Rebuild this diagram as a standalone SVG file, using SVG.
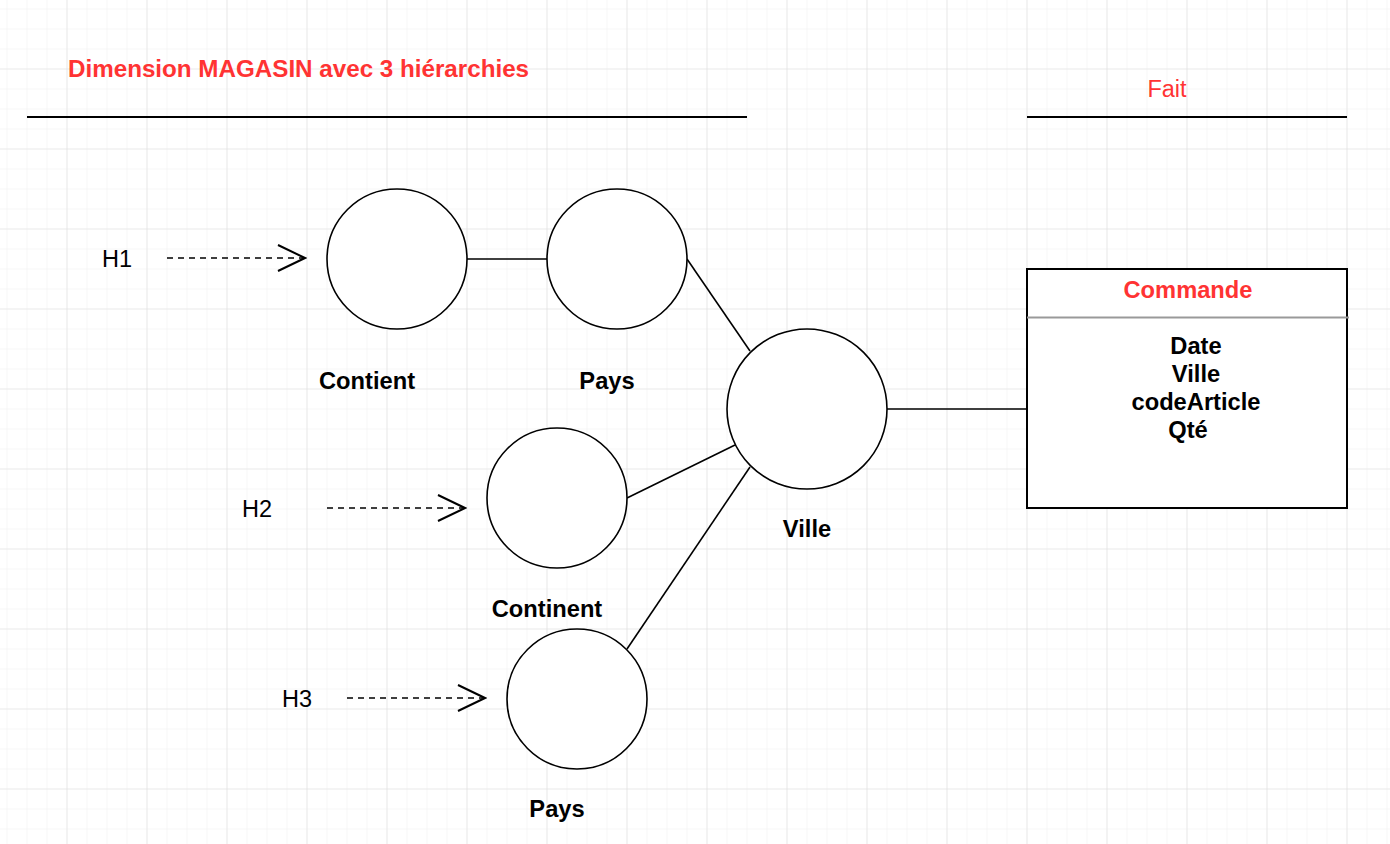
<svg xmlns="http://www.w3.org/2000/svg" width="1390" height="844" viewBox="0 0 1390 844">
  <defs>
    <pattern id="gridMinor" patternUnits="userSpaceOnUse" x="6.5" y="8.5" width="20" height="20">
      <path d="M0 0 V20 M0 0 H20" fill="none" stroke="#eeeeee" stroke-width="1"/>
    </pattern>
    <pattern id="gridMajor" patternUnits="userSpaceOnUse" x="66.5" y="68.5" width="80" height="80">
      <path d="M0 0 V80 M0 0 H80" fill="none" stroke="#dfdfdf" stroke-width="1.2"/>
    </pattern>
    <marker id="openArrow" markerUnits="userSpaceOnUse" viewBox="0 0 30 30" refX="28" refY="15" markerWidth="30" markerHeight="30" orient="auto">
      <path d="M1 2 L28 15 L1 28" fill="none" stroke="#000" stroke-width="2"/>
    </marker>
  </defs>
  <style>
    .node { fill: #ffffff; stroke: #000000; stroke-width: 1.6; }
    .edge { fill: none; stroke: #000000; stroke-width: 1.6; }
    .dash { fill: none; stroke: #000000; stroke-width: 1.6; stroke-dasharray: 6 5; }
    .rule { stroke: #000000; stroke-width: 1.8; }
    .lbl { font-family: "Liberation Sans", Arial, sans-serif; font-size: 23.7px; font-weight: bold; fill: #000000; }
    .title { font-family: "Liberation Sans", Arial, sans-serif; font-size: 24.2px; font-weight: bold; }
    .h { font-family: "Liberation Sans", Arial, sans-serif; font-size: 23.5px; fill: #000000; }
    .red { fill: #ff3333; }
  </style>

  <rect width="1390" height="844" fill="#ffffff"/>
  <rect width="1390" height="844" fill="url(#gridMinor)"/>
  <rect width="1390" height="844" fill="url(#gridMajor)"/>

  <g id="headers">
    <text class="title red" x="68" y="77">Dimension MAGASIN avec 3 hiérarchies</text>
    <line class="rule" x1="27" y1="117" x2="747" y2="117"/>
    <text class="h red" x="1167" y="97" text-anchor="middle">Fait</text>
    <line class="rule" x1="1027" y1="117" x2="1347" y2="117"/>
  </g>

  <g id="connectors">
    <line class="edge" x1="467" y1="259" x2="547" y2="259"/>
    <line class="edge" x1="687" y1="259" x2="750" y2="351"/>
    <line class="edge" x1="627" y1="498" x2="735" y2="445"/>
    <line class="edge" x1="627" y1="649" x2="750" y2="467"/>
    <line class="edge" x1="887" y1="409" x2="1027" y2="409"/>
    <line class="dash" x1="167" y1="258" x2="305" y2="258" marker-end="url(#openArrow)"/>
    <line class="dash" x1="327" y1="508" x2="465" y2="508" marker-end="url(#openArrow)"/>
    <line class="dash" x1="347" y1="698" x2="485" y2="698" marker-end="url(#openArrow)"/>
  </g>

  <g id="H1"><text class="h" x="102" y="267">H1</text></g>
  <g id="H2"><text class="h" x="242" y="517">H2</text></g>
  <g id="H3"><text class="h" x="282" y="707">H3</text></g>

  <g id="node-contient">
    <circle class="node" cx="397" cy="259" r="70"/>
    <text class="lbl" x="367" y="389" text-anchor="middle">Contient</text>
  </g>
  <g id="node-pays1">
    <circle class="node" cx="617" cy="259" r="70"/>
    <text class="lbl" x="607" y="389" text-anchor="middle">Pays</text>
  </g>
  <g id="node-ville">
    <circle class="node" cx="807" cy="409" r="80"/>
    <text class="lbl" x="807" y="537" text-anchor="middle">Ville</text>
  </g>
  <g id="node-continent">
    <circle class="node" cx="557" cy="498" r="70"/>
    <text class="lbl" x="547" y="617" text-anchor="middle">Continent</text>
  </g>
  <g id="node-pays3">
    <circle class="node" cx="577" cy="699" r="70"/>
    <text class="lbl" x="557" y="817" text-anchor="middle">Pays</text>
  </g>

  <g id="node-commande">
    <rect x="1027" y="269" width="320" height="239" fill="#ffffff" stroke="#000000" stroke-width="2"/>
    <line x1="1027" y1="317.5" x2="1349" y2="317.5" stroke="#999999" stroke-width="1.8"/>
    <text class="lbl red" x="1188" y="298" text-anchor="middle">Commande</text>
    <text class="lbl" x="1196" y="354" text-anchor="middle">Date</text>
    <text class="lbl" x="1196" y="382" text-anchor="middle">Ville</text>
    <text class="lbl" x="1196" y="410" text-anchor="middle">codeArticle</text>
    <text class="lbl" x="1188" y="438" text-anchor="middle">Qté</text>
  </g>
</svg>
